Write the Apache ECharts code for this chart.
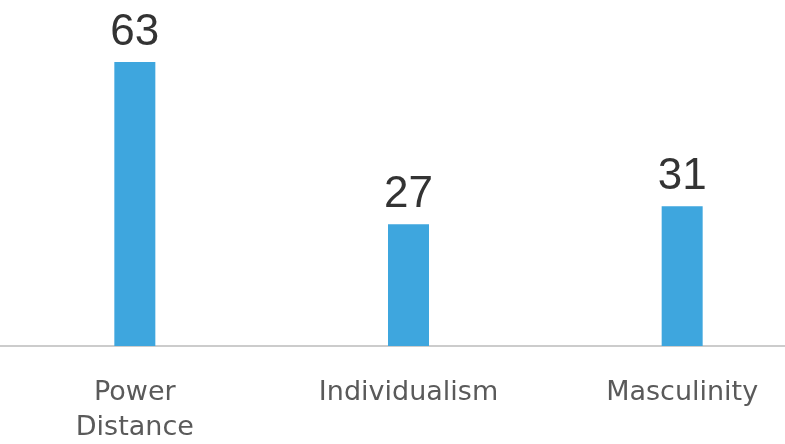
<!DOCTYPE html>
<html><head><meta charset="utf-8">
<script src="https://cdn.jsdelivr.net/npm/echarts@6/dist/echarts.min.js"></script>
<style>html,body{margin:0;padding:0;background:#fff}#c{width:785px;height:444px}</style>
</head><body><div id="c"></div>
<script>
const categories = ['Power\nDistance', 'Individualism', 'Masculinity'];
const values = [63, 27, 31];

const chart = echarts.init(document.getElementById('c'), null, {renderer: 'canvas'});
chart.setOption({
  animation: false,
  grid: {left: -2, right: -34, top: 62, bottom: 98, containLabel: false, outerBoundsMode: 'none'},
  xAxis: {
    type: 'category', data: categories,
    axisLine: {show: true, lineStyle: {color: '#cccccc', width: 2}},
    axisTick: {show: false},
    axisLabel: {color: '#5a5a5a', fontSize: 27, lineHeight: 35, margin: 29, fontFamily: 'DejaVu Sans', interval: 0}
  },
  yAxis: {type: 'value', min: 0, max: 63, show: false, splitLine: {show: false}},
  series: [{
    type: 'bar', data: values, barWidth: 41,
    itemStyle: {color: '#3ea6de'},
    label: {show: true, position: 'top', distance: 7, color: '#333333', fontSize: 44, fontFamily: 'Liberation Sans'}
  }]
});
</script></body></html>
